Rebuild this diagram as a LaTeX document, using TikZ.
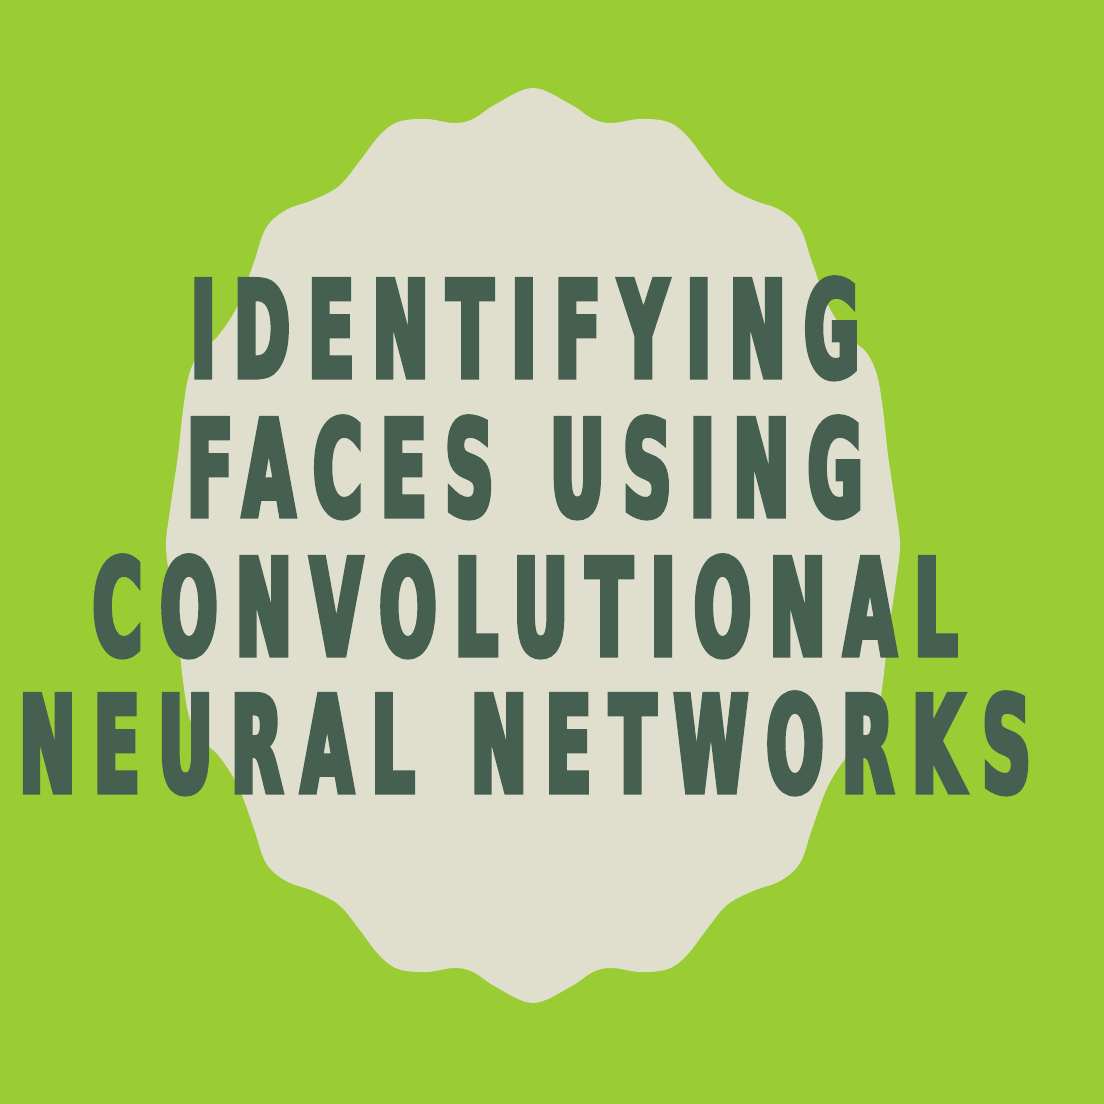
\documentclass[tikz,border=0pt]{standalone}
\usepackage{fontspec}
\newfontfamily\headfont{DejaVu Sans Condensed Bold}[FakeStretch=0.555,FakeBold=4,LetterSpace=14]
\definecolor{bggreen}{HTML}{9ACC34}
\definecolor{blobbeige}{HTML}{E0DECC}
\definecolor{inkgreen}{HTML}{455F50}
\newcommand{\wordgap}{\hspace{0.15cm} }
\tikzset{
  headline/.style={inner sep=0pt, anchor=base, text=inkgreen, font=\headfont\fontsize{38}{38}\selectfont}
}
\begin{document}
\begin{tikzpicture}[x=0.01cm,y=-0.01cm]
      \fill[bggreen] (0,0) rectangle (1104,1104);
      \useasboundingbox (0,0) rectangle (1104,1104);
      \fill[blobbeige] plot[smooth cycle,tension=0.6] coordinates {
        (533,88) (570,104) (593,119) (612,123) (640,119) (668,122) (687,136)
        (707,162) (727,186) (753,200) (780,210) (800,228) (812,262) (828,305)
        (848,336) (866,352) (877,375) (883,410) (888,455) (896,510) (900,545)
        (896,581) (888,636) (883,681) (877,716) (866,739) (848,755) (828,786)
        (812,829) (800,863) (780,881) (753,891) (727,905) (707,929) (687,955)
        (668,969) (640,972) (612,968) (593,972) (570,987) (533,1003)
        (496,987) (473,972) (454,968) (426,972) (398,969) (379,955) (359,929)
        (339,905) (313,891) (286,881) (266,863) (254,829) (238,786) (218,755)
        (200,739) (189,716) (183,681) (178,636) (170,581) (166,545)
        (170,510) (178,455) (183,410) (189,375) (200,352) (218,336) (238,305)
        (254,262) (266,228) (286,210) (313,200) (339,186) (359,162) (379,136)
        (398,122) (426,119) (454,123) (473,119) (496,104)};
      \node[headline] (ident) at (525,377) {IDENTIFYING};
      \node[headline] (faces) at (525,516) {FACES\wordgap USING};
      \node[headline] (conv) at (525,655) {CONVOLUTIONAL};
      \node[headline] (neural) at (525,792) {NEURAL\wordgap NETWORKS};
    \end{tikzpicture}
\end{document}
